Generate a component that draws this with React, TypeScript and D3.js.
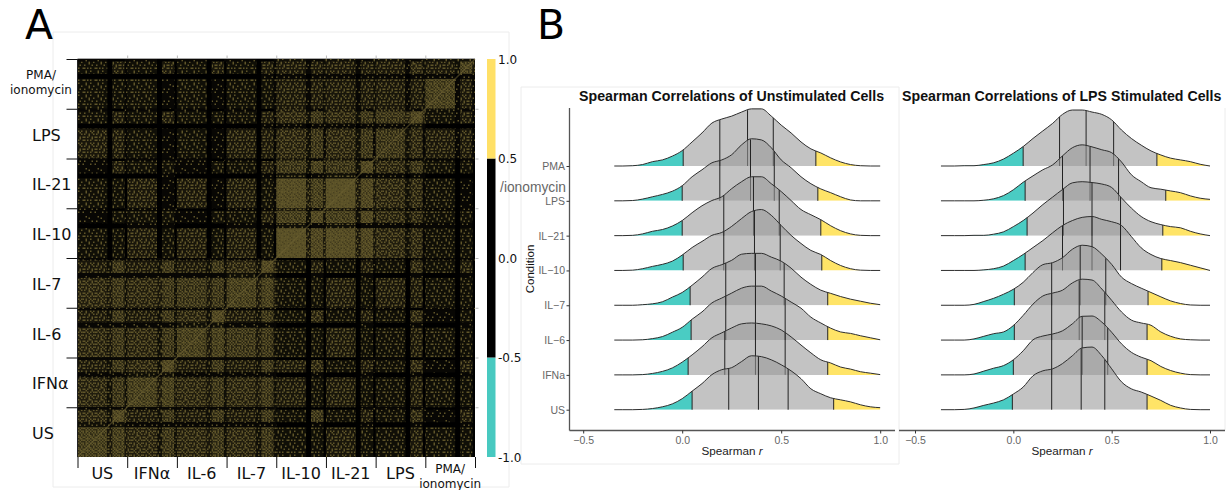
import React, { useEffect, useRef } from "react";
import * as d3 from "d3";

// Panel A: correlation heatmap, read as brightness 0-9 per sub-block.
// Each condition has 4 sub-bands, rows run top to bottom, columns left to right.
const heatConditions = ["US", "IFNα", "IL-6", "IL-7", "IL-10", "IL-21", "LPS", "PMA/ionomycin"];
const subBands = [0.6, 0.1, 0.25, 0.05]; // main, gap, band, edge (column order)
const heatRows = [
  "1001 1001 1001 1001 2112 2112 2112 2222",
  "2031 2030 2030 2031 3132 3132 3142 3263",
  "0000 0000 0000 0010 1011 1011 1011 1011",
  "2021 2010 2010 2021 3132 3132 3132 6131",

  "1001 1001 1001 1001 3112 3112 3113 2111",
  "2031 2030 2020 2031 4252 4252 5474 2131",
  "0000 0000 0000 0010 1011 1011 1021 0000",
  "3031 2010 2010 3031 4251 4251 5241 3131",

  "1001 1011 1001 1001 3113 3113 2112 1011",
  "1031 2021 1020 2031 5262 5272 4252 2020",
  "0000 0010 0000 0010 2011 2011 1011 0000",
  "2020 3010 3010 3021 8363 9373 4241 2010",

  "1001 1011 0000 1011 3113 3113 2112 1011",
  "1021 2021 1021 2031 6272 6272 4242 2020",
  "0000 1010 0000 1010 2011 2011 1011 1010",
  "2020 3020 3020 3020 9373 8373 4241 2020",

  "1011 1111 1111 1112 0000 1011 1011 1011",
  "3252 3252 3252 4274 2030 2031 2041 2030",
  "1111 1111 1111 2121 0010 0010 0010 0010",
  "4352 4352 5352 6363 2020 3020 3030 2020",

  "1111 1111 1112 1111 0000 1011 1001 1011",
  "3252 3252 4274 3252 2040 2030 2041 1020",
  "1111 1111 2121 1111 0000 0010 0010 0010",
  "4352 4252 6363 5352 2020 3020 2030 2020",

  "1111 1112 1111 1111 0000 0011 1001 0010",
  "3252 4274 3252 3252 3040 2031 2041 1030",
  "1111 2121 1111 1111 0010 0010 0010 0010",
  "4252 6363 4352 4352 3020 3020 2030 2020",

  "1112 1111 1111 1112 0000 0011 1011 0010",
  "4274 3252 3252 3252 2050 2030 2041 1030",
  "2121 1111 1111 1111 0010 0010 0010 0010",
  "6363 4252 4352 4252 2020 3020 2030 2020",
];
// speckle order for the fine cell texture
const speckleTile = [
  [37, 5, 58, 21, 44, 12, 63, 28],
  [16, 49, 30, 1, 54, 35, 8, 47],
  [60, 25, 41, 10, 19, 61, 24, 39],
  [3, 52, 14, 56, 33, 4, 50, 15],
  [43, 20, 34, 27, 46, 13, 31, 57],
  [9, 62, 6, 48, 0, 59, 22, 2],
  [36, 26, 53, 18, 40, 29, 51, 38],
  [55, 11, 32, 45, 7, 42, 17, 23],
];
const colorBarStops = [
  { from: -1, to: -0.5, color: "#48c9c0" },
  { from: -0.5, to: 0.5, color: "#000000" },
  { from: 0.5, to: 1, color: "#ffe066" },
];
const colorBarTicks = [1, 0.5, 0, -0.5, -1];

// Panel B: ridges, bottom to top
const conditions = ["US", "IFNa", "IL−6", "IL−7", "IL−10", "IL−21", "LPS", "PMA"];
const rGrid = [
  -0.35, -0.3, -0.25, -0.2, -0.15, -0.1, -0.05, 0, 0.05, 0.1, 0.15, 0.2, 0.25, 0.3,
  0.35, 0.4, 0.45, 0.5, 0.55, 0.6, 0.65, 0.7, 0.75, 0.8, 0.85, 0.9, 0.95, 1,
];
const unstimDensity = [
  [0, 0, 0, 0.01, 0.04, 0.1, 0.2, 0.38, 0.64, 0.9, 1.21, 1.38, 1.45, 1.66, 1.86, 1.83, 1.72, 1.55, 1.34, 1.07, 0.72, 0.55, 0.41, 0.34, 0.27, 0.17, 0.1, 0.07],
  [0, 0, 0, 0.01, 0.05, 0.12, 0.24, 0.44, 0.69, 0.97, 1.28, 1.45, 1.62, 1.76, 1.79, 1.76, 1.69, 1.55, 1.31, 1.03, 0.76, 0.52, 0.41, 0.27, 0.2, 0.11, 0.06, 0.01],
  [0, 0, 0, 0.01, 0.05, 0.12, 0.27, 0.44, 0.72, 0.97, 1.28, 1.45, 1.62, 1.79, 1.86, 1.86, 1.69, 1.52, 1.31, 1.1, 0.79, 0.59, 0.41, 0.28, 0.23, 0.15, 0.08, 0.01],
  [0, 0, 0, 0.02, 0.05, 0.12, 0.28, 0.44, 0.69, 0.97, 1.27, 1.4, 1.55, 1.76, 1.79, 1.79, 1.66, 1.52, 1.28, 0.97, 0.72, 0.52, 0.41, 0.3, 0.21, 0.14, 0.07, 0.02],
  [0, 0, 0.01, 0.06, 0.14, 0.21, 0.32, 0.53, 0.79, 1.0, 1.21, 1.31, 1.52, 1.79, 2.03, 2.1, 1.9, 1.55, 1.21, 0.93, 0.69, 0.55, 0.34, 0.17, 0.06, 0.01, 0, 0],
  [0, 0, 0.01, 0.06, 0.15, 0.21, 0.33, 0.52, 0.79, 1.03, 1.21, 1.34, 1.62, 1.86, 2.03, 2.03, 1.79, 1.52, 1.21, 0.9, 0.72, 0.55, 0.34, 0.17, 0.06, 0.01, 0, 0],
  [0, 0, 0.01, 0.06, 0.14, 0.22, 0.33, 0.52, 0.83, 1.07, 1.31, 1.41, 1.59, 1.93, 2.14, 2.1, 1.83, 1.41, 1.14, 0.83, 0.59, 0.41, 0.28, 0.14, 0.03, 0, 0, 0],
  [0, 0, 0.01, 0.05, 0.15, 0.21, 0.34, 0.53, 0.83, 1.14, 1.48, 1.62, 1.72, 1.86, 1.97, 1.97, 1.72, 1.41, 1.14, 0.83, 0.59, 0.45, 0.28, 0.14, 0.05, 0.01, 0, 0],
];
const lpsDensity = [
  [0, 0, 0.01, 0.06, 0.15, 0.23, 0.34, 0.54, 0.78, 1.17, 1.34, 1.41, 1.59, 1.86, 2.13, 2.16, 1.86, 1.41, 0.96, 0.72, 0.61, 0.47, 0.32, 0.15, 0.06, 0.01, 0, 0],
  [0, 0, 0, 0.03, 0.13, 0.23, 0.32, 0.52, 0.83, 1.21, 1.34, 1.41, 1.52, 1.76, 2.02, 2.03, 1.82, 1.47, 1.07, 0.78, 0.61, 0.49, 0.29, 0.15, 0.06, 0.01, 0, 0],
  [0, 0, 0, 0.04, 0.13, 0.22, 0.28, 0.5, 0.85, 1.24, 1.52, 1.62, 1.72, 1.97, 2.1, 2.07, 1.76, 1.37, 0.97, 0.69, 0.59, 0.51, 0.28, 0.13, 0.04, 0.01, 0, 0],
  [0, 0, 0, 0.03, 0.13, 0.24, 0.38, 0.55, 0.79, 1.13, 1.4, 1.47, 1.64, 1.93, 2.07, 2.02, 1.76, 1.41, 0.97, 0.75, 0.59, 0.44, 0.29, 0.15, 0.06, 0.01, 0, 0],
  [0, 0, 0, 0, 0.02, 0.06, 0.15, 0.34, 0.55, 0.79, 1.03, 1.3, 1.55, 1.72, 1.83, 1.86, 1.76, 1.68, 1.55, 1.17, 0.78, 0.55, 0.41, 0.34, 0.27, 0.18, 0.09, 0],
  [0, 0, 0, 0.01, 0.01, 0.05, 0.13, 0.31, 0.52, 0.78, 1.07, 1.33, 1.59, 1.82, 1.86, 1.83, 1.78, 1.66, 1.3, 0.95, 0.66, 0.48, 0.38, 0.31, 0.27, 0.15, 0.06, 0],
  [0, 0, 0, 0, 0.02, 0.07, 0.18, 0.38, 0.64, 0.86, 1.07, 1.24, 1.55, 1.83, 1.93, 1.86, 1.76, 1.66, 1.34, 0.9, 0.66, 0.45, 0.4, 0.34, 0.28, 0.17, 0.09, 0.05],
  [0, 0, 0.01, 0.01, 0.05, 0.11, 0.24, 0.44, 0.67, 0.95, 1.21, 1.47, 1.78, 1.93, 1.93, 1.86, 1.78, 1.59, 1.24, 0.95, 0.72, 0.52, 0.38, 0.27, 0.21, 0.15, 0.06, 0],
];
// 5%, 25%, 50%, 75%, 95% positions of each ridge
const unstimQuantiles = [
  [0.05, 0.235, 0.385, 0.535, 0.765],
  [0.03, 0.215, 0.37, 0.52, 0.735],
  [0.045, 0.22, 0.37, 0.52, 0.735],
  [0.04, 0.22, 0.37, 0.515, 0.735],
  [0.005, 0.21, 0.365, 0.495, 0.705],
  [0, 0.21, 0.36, 0.49, 0.7],
  [0, 0.19, 0.345, 0.465, 0.685],
  [0.005, 0.19, 0.33, 0.46, 0.675],
];
const lpsQuantiles = [
  [-0.005, 0.195, 0.345, 0.465, 0.68],
  [0, 0.195, 0.35, 0.48, 0.68],
  [0.005, 0.195, 0.335, 0.465, 0.68],
  [0.005, 0.195, 0.34, 0.47, 0.685],
  [0.06, 0.25, 0.4, 0.545, 0.755],
  [0.07, 0.255, 0.4, 0.545, 0.76],
  [0.06, 0.25, 0.39, 0.535, 0.775],
  [0.05, 0.235, 0.37, 0.51, 0.73],
];
const xTicks = [-0.5, 0, 0.5, 1];

const sans = "'Liberation Sans', Arial, sans-serif";
const deja = "'DejaVu Sans', sans-serif";

// shared scales for panel A
const heatX = d3.scaleLinear().domain([0, 8]).range([77.5, 475]);
const heatY = d3.scaleLinear().domain([0, 8]).range([59, 457]);
const barY = d3.scaleLinear().domain([-1, 1]).range([457, 59]);
const levelBase = d3.scaleLinear<string>().domain([0, 9]).range(["#000000", "#4a4220"]);
const ridgeY = d3.scalePoint().domain(conditions).range([409.7, 166]);
const heightScale = d3.scaleLinear().domain([0, 2]).range([0, 58]);

const Axis = ({ axis, transform, color, fontSize, font }: any) => {
  const ref = useRef<SVGGElement>(null);
  useEffect(() => {
    const g = d3.select(ref.current);
    g.call(axis);
    g.select(".domain").remove();
    g.selectAll("line").attr("stroke", color || "#333");
    g.selectAll("text")
      .attr("fill", "#666")
      .attr("font-size", fontSize || 10.5)
      .attr("font-family", font || sans);
  }, []);
  return <g ref={ref} transform={transform} />;
};

const Heatmap = () => {
  const offsets = d3.cumsum([0, ...subBands]);
  const levels = d3.range(1, 10);
  const cellSize = 1.5;
  const cells: any[] = [];
  heatRows.forEach((row, i) => {
    const digits = row.replace(/ /g, "").split("").map(Number);
    // rows run through the sub-bands in reverse, the matrix is mirrored
    const groupRow = Math.floor(i / 4);
    const subRow = 3 - (i % 4);
    const y0 = groupRow + (1 - offsets[subRow + 1]);
    const y1 = groupRow + (1 - offsets[subRow]);
    digits.forEach((v, j) => {
      if (v === 0) return;
      const col = Math.floor(j / 4) + offsets[j % 4];
      const colEnd = Math.floor(j / 4) + offsets[j % 4 + 1];
      cells.push(
        <rect
          key={`${i}-${j}`}
          x={heatX(col)}
          y={heatY(y0)}
          width={heatX(colEnd) - heatX(col)}
          height={heatY(y1) - heatY(y0)}
          fill={`url(#lvl${v})`}
        />
      );
    });
  });
  return (
    <g>
      <defs>
        {levels.map((v) => (
          <pattern key={v} id={`lvl${v}`} width={cellSize * 8} height={cellSize * 8} patternUnits="userSpaceOnUse">
            <rect width={cellSize * 8} height={cellSize * 8} fill={levelBase(v)} />
            {speckleTile.flatMap((row, a) =>
              row.map((t, b) =>
                t < (v * 52) / 9 ? (
                  <rect key={`${a}${b}`} x={b * cellSize} y={a * cellSize} width={cellSize} height={cellSize} fill="#5f5529" />
                ) : null
              )
            )}
          </pattern>
        ))}
      </defs>
      <rect x={heatX(0)} y={heatY(0)} width={heatX(8) - heatX(0)} height={heatY(8) - heatY(0)} fill="#000" />
      {cells}
      <line x1={heatX(0)} y1={heatY(8)} x2={heatX(8)} y2={heatY(0)} stroke="#6b6033" strokeOpacity={0.55} strokeWidth={1.5} />
    </g>
  );
};

const Ridge = ({ id, x, rMin, values, quantiles, name }: any) => {
  const base = ridgeY(name) as number;
  const grid = rGrid.map((r, i) => (i === 0 ? rMin : r));
  const pts = grid.map((r, i) => [r, values[i]]);
  const density = d3.scaleLinear().domain(grid).range(values);
  const area = d3
    .area<number[]>()
    .x((d) => x(d[0]))
    .y0(base)
    .y1((d) => base - heightScale(d[1]))
    .curve(d3.curveMonotoneX);
  const line = d3
    .line<number[]>()
    .x((d) => x(d[0]))
    .y((d) => base - heightScale(d[1]))
    .curve(d3.curveMonotoneX);
  const q0 = quantiles[0];
  const q4 = quantiles[4];
  const segments = [
    { key: "low", from: rMin, to: q0, fill: "#40c9c0", opacity: 0.95 },
    { key: "mid", from: q0, to: q4, fill: "#989898", opacity: 0.58 },
    { key: "high", from: q4, to: 1, fill: "#ffe35f", opacity: 0.95 },
  ];
  return (
    <g>
      {segments.map((s) => (
        <g key={s.key}>
          <clipPath id={`${id}-${s.key}`}>
            <rect x={x(s.from)} y={base - 80} width={x(s.to) - x(s.from)} height={80} />
          </clipPath>
          <path d={area(pts) as string} fill={s.fill} fillOpacity={s.opacity} clipPath={`url(#${id}-${s.key})`} />
        </g>
      ))}
      {quantiles.map((q: number) => (
        <line key={q} x1={x(q)} x2={x(q)} y1={base} y2={base - heightScale(density(q))} stroke="#222" strokeWidth={1} />
      ))}
      <path d={line(pts) as string} fill="none" stroke="#2e2e2e" strokeWidth={1} />
    </g>
  );
};

const RidgePanel = ({ id, x, rMin, density, quantiles }: any) => {
  // top ridge first, lower ridges paint over it
  const order = d3.range(conditions.length).reverse();
  return (
    <g>
      {order.map((i) => (
        <Ridge
          key={i}
          id={`${id}${i}`}
          x={x}
          rMin={rMin}
          name={conditions[i]}
          values={density[i]}
          quantiles={quantiles[i]}
        />
      ))}
    </g>
  );
};

const App = () => {
  const xUnstim = d3.scaleLinear().domain([-0.5, 1]).range([583.2, 880.2]);
  const xLps = d3.scaleLinear().domain([-0.5, 1]).range([915, 1210]);
  const frame = "#ececec";
  const gridLines = d3.range(1, 8);
  const heatLabels = heatConditions.slice(0, 7);

  return (
    <svg width={1228} height={490} style={{ position: "absolute", left: 0, top: 0, display: "block" }}>
      <rect width={1228} height={490} fill="#fff" />

      {/* panel frames */}
      <path d="M53,487V32H509V487H53" fill="none" stroke={frame} />
      <path d="M521,464V87H899V464H521" fill="none" stroke={frame} />
      <path d="M1225,108V430" fill="none" stroke={frame} />

      <text x={25} y={39} fontSize={41} fontFamily={deja}>A</text>
      <text x={537} y={39} fontSize={41} fontFamily={deja}>B</text>

      {/* panel A */}
      <Heatmap />
      <Axis
        axis={d3.axisTop(heatX).tickValues(gridLines).tickSize(3).tickFormat(() => "")}
        transform={`translate(0,${heatY(0) - 0.5})`}
        color="#bbb"
      />
      <Axis
        axis={d3.axisRight(heatY).tickValues(gridLines).tickSize(3).tickFormat(() => "")}
        transform={`translate(${heatX(8) + 0.5},0)`}
        color="#bbb"
      />
      <line x1={heatX(0)} x2={heatX(8)} y1={heatY(0) - 0.5} y2={heatY(0) - 0.5} stroke="#aaa" />
      <line x1={heatX(0)} x2={heatX(0)} y1={heatY(0)} y2={heatY(8)} stroke="#222" />
      <Axis
        axis={d3.axisBottom(heatX).tickValues(d3.range(0, 9)).tickSize(11).tickFormat(() => "")}
        transform={`translate(0,${heatY(8)})`}
        color="#111"
      />
      <Axis
        axis={d3.axisLeft(heatY).tickValues(d3.range(0, 8)).tickSize(11).tickFormat(() => "")}
        transform={`translate(${heatX(0)},0)`}
        color="#111"
      />
      {heatLabels.map((name, i) => (
        <text key={name} x={heatX(i + 0.5)} y={479} textAnchor="middle" fontSize={16} fontFamily={deja} fill="#111">
          {name}
        </text>
      ))}
      <text x={heatX(7.5)} y={473} textAnchor="middle" fontSize={12} fontFamily={deja} fill="#111">PMA/</text>
      <text x={heatX(7.5)} y={488} textAnchor="middle" fontSize={12} fontFamily={deja} fill="#111">ionomycin</text>
      {heatLabels.map((name, i) => (
        <text key={name} x={32} y={heatY(7.5 - i) + 7} fontSize={16} fontFamily={deja} fill="#111">
          {name}
        </text>
      ))}
      <text x={41} y={79} textAnchor="middle" fontSize={12} fontFamily={deja} fill="#111">PMA/</text>
      <text x={41} y={94} textAnchor="middle" fontSize={12} fontFamily={deja} fill="#111">ionomycin</text>

      {/* colour bar */}
      {colorBarStops.map((s) => (
        <rect
          key={s.from}
          x={487}
          y={barY(s.to)}
          width={8.5}
          height={barY(s.from) - barY(s.to)}
          fill={s.color}
        />
      ))}
      {colorBarTicks.map((t) => (
        <text key={t} x={498} y={barY(t) + 4.5} fontSize={12} fontFamily={deja} fill="#111">
          {t.toFixed(1)}
        </text>
      ))}

      {/* panel B */}
      <text x={579} y={101} fontSize={14.2} fontWeight="bold" fontFamily={sans} fill="#111">
        Spearman Correlations of Unstimulated Cells
      </text>
      <text x={902} y={101} fontSize={14.2} fontWeight="bold" fontFamily={sans} fill="#111">
        Spearman Correlations of LPS Stimulated Cells
      </text>

      <RidgePanel id="un" x={xUnstim} rMin={-0.343} density={unstimDensity} quantiles={unstimQuantiles} />
      <RidgePanel id="lp" x={xLps} rMin={-0.368} density={lpsDensity} quantiles={lpsQuantiles} />

      <line x1={569.5} x2={569.5} y1={108} y2={430.5} stroke="#555" strokeWidth={1.3} />
      <line x1={569.5} x2={895} y1={430.5} y2={430.5} stroke="#555" strokeWidth={1.3} />
      <line x1={899} x2={1225} y1={430.5} y2={430.5} stroke="#555" strokeWidth={1.3} />
      <Axis axis={d3.axisLeft(ridgeY).tickSize(3).tickPadding(1.5)} transform="translate(569.5,0)" />
      <text x={566} y={192} textAnchor="end" fontSize={13.8} fontFamily={sans} fill="#666">/ionomycin</text>
      <Axis
        axis={d3.axisBottom(xUnstim).tickValues(xTicks).tickSize(3).tickFormat(d3.format(".1f"))}
        transform="translate(0,430.5)"
      />
      <Axis
        axis={d3.axisBottom(xLps).tickValues(xTicks).tickSize(3).tickFormat(d3.format(".1f"))}
        transform="translate(0,430.5)"
      />
      <text x={732} y={455} textAnchor="middle" fontSize={11.7} fontFamily={sans} fill="#222">
        Spearman <tspan fontStyle="italic">r</tspan>
      </text>
      <text x={1062} y={455} textAnchor="middle" fontSize={11.7} fontFamily={sans} fill="#222">
        Spearman <tspan fontStyle="italic">r</tspan>
      </text>
      <text transform="translate(534,269) rotate(-90)" textAnchor="middle" fontSize={11.5} fontFamily={sans} fill="#111">
        Condition
      </text>
    </svg>
  );
};

export default App;
